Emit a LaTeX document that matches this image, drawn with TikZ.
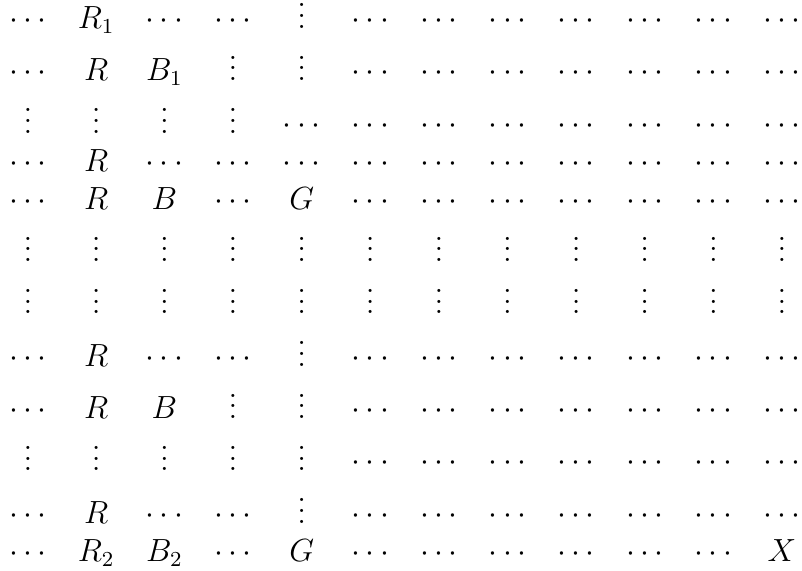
\documentclass[tikz,border=0pt]{standalone}
\usetikzlibrary{matrix,calc}

\begin{document}
\begin{tikzpicture}[
  cell/.style={inner sep=0pt, font=\large, execute at begin node=\strut}
]
\matrix (m) [matrix of math nodes, nodes={cell}, column sep=11.7pt, row sep=0.25pt] {
\cdots & R_1 & \cdots & \cdots & \vdots & \cdots & \cdots & \cdots & \cdots & \cdots & \cdots & \cdots \\
\cdots & R & B_1 & \vdots & \vdots & \cdots & \cdots & \cdots & \cdots & \cdots & \cdots & \cdots \\
\vdots & \vdots & \vdots & \vdots & \cdots & \cdots & \cdots & \cdots & \cdots & \cdots & \cdots & \cdots \\
\cdots & R & \cdots & \cdots & \cdots & \cdots & \cdots & \cdots & \cdots & \cdots & \cdots & \cdots \\
\cdots & R & B & \cdots & G & \cdots & \cdots & \cdots & \cdots & \cdots & \cdots & \cdots \\
\vdots & \vdots & \vdots & \vdots & \vdots & \vdots & \vdots & \vdots & \vdots & \vdots & \vdots & \vdots \\
\vdots & \vdots & \vdots & \vdots & \vdots & \vdots & \vdots & \vdots & \vdots & \vdots & \vdots & \vdots \\
\cdots & R & \cdots & \cdots & \vdots & \cdots & \cdots & \cdots & \cdots & \cdots & \cdots & \cdots \\
\cdots & R & B & \vdots & \vdots & \cdots & \cdots & \cdots & \cdots & \cdots & \cdots & \cdots \\
\vdots & \vdots & \vdots & \vdots & \vdots & \cdots & \cdots & \cdots & \cdots & \cdots & \cdots & \cdots \\
\cdots & R & \cdots & \cdots & \vdots & \cdots & \cdots & \cdots & \cdots & \cdots & \cdots & \cdots \\
\cdots & R_2 & B_2 & \cdots & G & \cdots & \cdots & \cdots & \cdots & \cdots & \cdots & X \\
};
% margins round the grid
\pgfresetboundingbox
\useasboundingbox ($(m-1-1.base)+(-10.5pt,10.6pt)$) rectangle ($(m-12-12.base)+(7.5pt,-3.4pt)$);
\end{tikzpicture}
\end{document}
